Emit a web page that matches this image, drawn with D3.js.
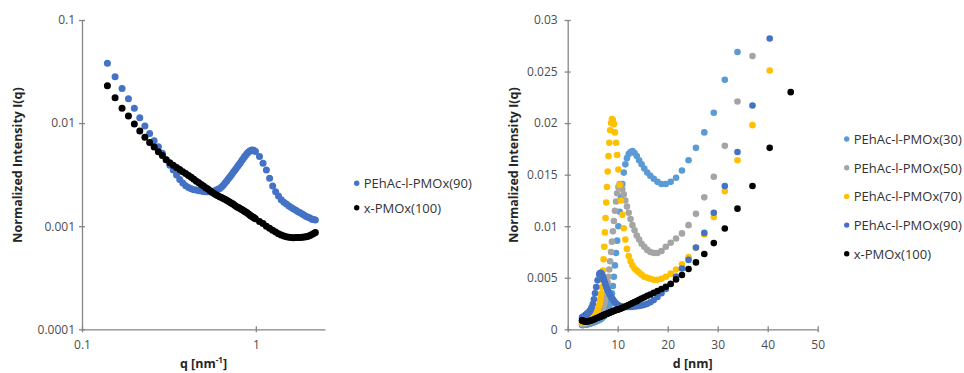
<!DOCTYPE html>
<html>
<head>
<meta charset="utf-8">
<script src="https://cdn.jsdelivr.net/npm/d3@7"></script>
<style>
  body { margin: 0; background: #fff; }
  svg { display: block; font-family: "Open Sans", sans-serif; }
</style>
</head>
<body>
<svg width="964" height="373"></svg>
<script>
// scattering vector grid (nm^-1), shared by every sample
var qGrid = [0.140,0.155,0.170,0.185,0.200,0.215,0.230,0.245,0.260,0.275,
  0.290,0.305,0.320,0.335,0.350,0.365,0.380,0.395,0.410,0.425,
  0.440,0.455,0.470,0.485,0.500,0.515,0.530,0.545,0.560,0.575,
  0.590,0.605,0.620,0.635,0.650,0.665,0.680,0.695,0.710,0.725,
  0.740,0.755,0.770,0.785,0.800,0.815,0.830,0.845,0.860,0.875,
  0.890,0.905,0.920,0.935,0.950,0.965,0.980,0.995,
  1.05,1.10,1.15,1.20,1.25,1.30,1.35,1.40,1.45,1.50,
  1.55,1.60,1.65,1.70,1.75,1.80,1.85,1.90,1.95,2.00,
  2.05,2.10,2.15,2.20]

// same points as real-space distance d (nm)
var dGrid = [44.6,40.4,36.96,33.96,31.42,29.22,27.32,25.65,24.17,22.85,
  21.67,20.60,19.63,18.76,17.95,17.21,16.53,15.91,15.32,14.78,
  14.28,13.81,13.37,12.95,12.57,12.20,11.85,11.53,11.22,10.93,
  10.65,10.39,10.13,9.89,9.67,9.45,9.24,9.04,8.85,8.67,
  8.49,8.32,8.16,8.00,7.85,7.71,7.57,7.44,7.31,7.18,
  7.06,6.94,6.83,6.72,6.61,6.51,6.41,6.31,
  5.98,5.71,5.46,5.24,5.03,4.83,4.65,4.49,4.33,4.19,
  4.05,3.93,3.81,3.70,3.59,3.49,3.40,3.31,3.22,3.14,
  3.06,2.99,2.92,2.86]

var pmox30 = [null,null,null,0.0269,0.0242,0.0210,0.0191,0.0176,0.0164,0.0154,
  0.0147,0.0143,0.0141,0.0141,0.0143,0.0146,0.0149,0.0152,0.0156,0.0160,
  0.0164,0.0168,0.0171,0.0173,0.0172,0.0170,0.0166,0.0160,0.0152,0.0141,
  0.0128,0.0114,0.0100,0.0086,0.0074,0.0062,0.0051,0.0042,0.0035,0.0029,
  0.0025,0.0022,0.0020,0.0018,0.0017,0.0016,0.0015,0.0014,0.0013,0.00125,
  0.0012,0.00115,0.0011,0.00105,0.0010,0.00097,0.00094,0.00091,
  0.00083,0.00077,0.00072,0.00068,0.00064,0.00061,0.00058,0.00056,0.00054,0.00052,
  0.00050,0.00049,0.00048,0.00047,0.00046,0.00045,0.00044,0.00044,0.00043,0.00043,
  0.00042,0.00042,0.00042,0.00042]

var pmox50 = [null,null,0.0265,0.0221,0.0178,0.0148,0.0128,0.0112,0.0101,0.0093,
  0.0088,0.0084,0.0080,0.0076,0.0074,0.0074,0.0075,0.0077,0.0080,0.0083,
  0.0087,0.0091,0.0096,0.0101,0.0107,0.0113,0.0119,0.0125,0.0131,0.0136,
  0.0140,0.0141,0.0138,0.0132,0.0124,0.0115,0.0105,0.0095,0.0085,0.0075,
  0.0066,0.0058,0.0051,0.0045,0.0040,0.0035,0.0031,0.0028,0.0025,0.0023,
  0.0021,0.0019,0.0018,0.0017,0.0016,0.0015,0.0014,0.0013,
  0.0012,0.0011,0.0010,0.00093,0.00087,0.00082,0.00078,0.00074,0.00071,0.00068,
  0.00066,0.00064,0.00062,0.00060,0.00059,0.00058,0.00057,0.00056,0.00055,0.00055,
  0.00054,0.00054,0.00054,0.00054]

var pmox70 = [null,0.0251,0.0198,0.0164,0.0134,0.0109,0.0092,0.0079,0.0070,0.0063,
  0.0058,0.0054,0.0051,0.0049,0.0048,0.0048,0.0049,0.0050,0.0051,0.0053,
  0.0055,0.0057,0.0059,0.0062,0.0066,0.0071,0.0078,0.0087,0.0098,0.0111,
  0.0125,0.0140,0.0155,0.0169,0.0181,0.0191,0.0199,0.0203,0.0204,0.0200,
  0.0193,0.0181,0.0168,0.0153,0.0138,0.0123,0.0108,0.0094,0.0080,0.0068,
  0.0057,0.0048,0.0041,0.0035,0.0031,0.0028,0.0025,0.0023,
  0.0019,0.0016,0.0014,0.00125,0.00115,0.00105,0.00098,0.00092,0.00087,0.00083,
  0.00080,0.00077,0.00075,0.00073,0.00071,0.00069,0.00068,0.00067,0.00066,0.00065,
  0.00065,0.00064,0.00064,0.00064]

var pmox90 = [0.0380,0.0282,0.0217,0.0172,0.0139,0.0113,0.00935,0.00794,0.00673,0.00589,
  0.00511,0.00442,0.00391,0.00350,0.00313,0.00283,0.00262,0.00247,0.00237,0.00231,
  0.00226,0.00224,0.00221,0.00219,0.00217,0.00216,0.00216,0.00216,0.00217,0.00219,
  0.00223,0.00228,0.00232,0.00240,0.00250,0.00263,0.00275,0.00289,0.00302,0.00316,
  0.00331,0.00347,0.00363,0.00379,0.00396,0.00413,0.00433,0.00452,0.00471,0.00489,
  0.00508,0.00522,0.00534,0.00541,0.00547,0.00546,0.00540,0.00531,
  0.00475,0.00409,0.00350,0.00292,0.00246,0.00216,0.00196,0.00181,0.00171,0.00164,
  0.00157,0.00152,0.00147,0.00143,0.00138,0.00135,0.00131,0.00128,0.00124,0.00122,
  0.00120,0.00117,0.00116,0.00115]

var pmox100 = [0.0230,0.0176,0.0139,0.0117,0.00978,0.00836,0.00731,0.00649,0.00585,0.00526,
  0.00484,0.00440,0.00413,0.00391,0.00371,0.00354,0.00338,0.00325,0.00311,0.00299,
  0.00286,0.00273,0.00264,0.00254,0.00246,0.00236,0.00229,0.00221,0.00214,0.00208,
  0.00202,0.00197,0.00193,0.00190,0.00186,0.00183,0.00179,0.00175,0.00171,0.00167,
  0.00164,0.00160,0.00156,0.00153,0.00151,0.00148,0.00145,0.00143,0.00140,0.00137,
  0.00135,0.00132,0.00129,0.00126,0.00124,0.00122,0.00120,0.00118,
  0.00111,0.00106,0.00100,0.000956,0.000915,0.000879,0.000846,0.000822,0.000804,0.000789,
  0.000780,0.000775,0.000773,0.000775,0.000777,0.000779,0.000782,0.000786,0.000791,0.000800,
  0.000813,0.000831,0.000850,0.000869]

var leftNames = ["PEhAc-l-PMOx(90)", "x-PMOx(100)"]
var rightNames = ["PEhAc-l-PMOx(30)", "PEhAc-l-PMOx(50)", "PEhAc-l-PMOx(70)", "PEhAc-l-PMOx(90)", "x-PMOx(100)"]
var colors = ["#5B9BD5", "#A5A5A5", "#FFC000", "#4472C4", "#000000"]

var leftXTicks = [0.1, 1]
var leftYTicks = [0.0001, 0.001, 0.01, 0.1]
var rightXTicks = [0, 10, 20, 30, 40, 50]
var rightYTicks = [0, 0.005, 0.01, 0.015, 0.02, 0.025, 0.03]

var svg = d3.select("svg")
var axisColor = "#868686"
var labelColor = "#4d4d4d"
var r = 3.5

var plotTop = 20, plotBottom = 329.3

// ---------- left panel: I(q) log-log ----------
var xL = d3.scaleLog().domain([0.1, 2.5]).range([82, 325])
var yL = d3.scaleLog().domain([0.0001, 0.1]).range([plotBottom, plotTop])

var gL = svg.append("g")

var leftSeries = [pmox90, pmox100]
var leftColors = [colors[3], colors[4]]
leftSeries.forEach(function(vals, k) {
  var pts = qGrid.map((q, i) => [q, vals[i]]).filter(d => d[1] != null)
  gL.append("g").selectAll("circle")
    .data(pts)
    .enter().append("circle")
      .attr("cx", d => xL(d[0]))
      .attr("cy", d => yL(d[1]))
      .attr("r", r)
      .attr("fill", leftColors[k])
})

// ---------- right panel: I(d) linear ----------
var xR = d3.scaleLinear().domain([0, 50]).range([567.7, 817.7])
var yR = d3.scaleLinear().domain([0, 0.03]).range([plotBottom, plotTop])

var gR = svg.append("g")
var rightSeries = [pmox30, pmox50, pmox70, pmox90, pmox100]
rightSeries.forEach(function(vals, k) {
  var pts = dGrid.map((d, i) => [d, vals[i]]).filter(d => d[1] != null && d[1] <= 0.03)
  gR.append("g").selectAll("circle")
    .data(pts)
    .enter().append("circle")
      .attr("cx", d => xR(d[0]))
      .attr("cy", d => yR(d[1]))
      .attr("r", r - 0.2)
      .attr("fill", colors[k])
})

// ---------- axes ----------
function styleAxis(g, vertical) {
  g.select(".domain").attr("stroke", axisColor).attr("stroke-width", 1.3)
  g.selectAll(".tick line").attr("stroke", axisColor).attr("stroke-width", 1.3)
  if (vertical) g.selectAll(".tick line").attr("x1", 3)
  else g.selectAll(".tick line").attr("y1", -3)
  g.selectAll(".tick text").attr("fill", labelColor).attr("font-size", 12)
  g.attr("font-family", null)
}

svg.append("g")
  .attr("transform", "translate(82,0)")
  .call(d3.axisLeft(yL).tickValues(leftYTicks).tickFormat(d => String(d)).tickSizeOuter(0).tickSizeInner(3).tickPadding(4))
  .call(g => styleAxis(g, true))

svg.append("g")
  .attr("transform", "translate(0," + plotBottom + ")")
  .call(d3.axisBottom(xL).tickValues(leftXTicks).tickFormat(d => String(d)).tickSizeOuter(0).tickSizeInner(3).tickPadding(8))
  .call(g => styleAxis(g, false))

svg.append("g")
  .attr("transform", "translate(567.7,0)")
  .call(d3.axisLeft(yR).tickValues(rightYTicks).tickFormat(d => String(d)).tickSizeOuter(0).tickSizeInner(3).tickPadding(7))
  .call(g => styleAxis(g, true))

svg.append("g")
  .attr("transform", "translate(0," + plotBottom + ")")
  .call(d3.axisBottom(xR).tickValues(rightXTicks).tickFormat(d => String(d)).tickSizeOuter(0).tickSizeInner(3).tickPadding(8))
  .call(g => styleAxis(g, false))

// ---------- axis titles ----------
var titleColor = "#262626"
function yTitle(x) {
  svg.append("text")
    .attr("transform", "translate(" + x + ",165) rotate(-90)")
    .attr("text-anchor", "middle")
    .attr("dominant-baseline", "central")
    .attr("font-weight", "bold")
    .attr("font-size", 12.5)
    .attr("fill", titleColor)
    .text("Normalized Intensity I(q)")
}
yTitle(17)
yTitle(513)

var qt = svg.append("text")
  .attr("x", 203.5).attr("y", 368)
  .attr("text-anchor", "middle")
  .attr("font-weight", "bold")
  .attr("font-size", 12.5)
  .attr("fill", titleColor)
qt.append("tspan").text("q [nm")
qt.append("tspan").attr("font-size", 8).attr("dy", -5).text("-1")
qt.append("tspan").attr("dy", 5).text("]")

svg.append("text")
  .attr("x", 692.7).attr("y", 368)
  .attr("text-anchor", "middle")
  .attr("font-weight", "bold")
  .attr("font-size", 12.5)
  .attr("fill", titleColor)
  .text("d [nm]")

// ---------- legends ----------
function legend(names, cols, x, y0, step) {
  var g = svg.append("g")
  names.forEach(function(name, i) {
    var y = y0 + i * step
    g.append("circle").attr("cx", x).attr("cy", y).attr("r", 2.7).attr("fill", cols[i])
    g.append("text")
      .attr("x", x + 7).attr("y", y)
      .attr("dominant-baseline", "central")
      .attr("font-size", 13)
      .attr("fill", "#333")
      .text(name)
  })
}
legend(leftNames, leftColors, 356.7, 183.3, 24.4)
legend(rightNames, colors, 846.7, 139, 28.7)
</script>
</body>
</html>
